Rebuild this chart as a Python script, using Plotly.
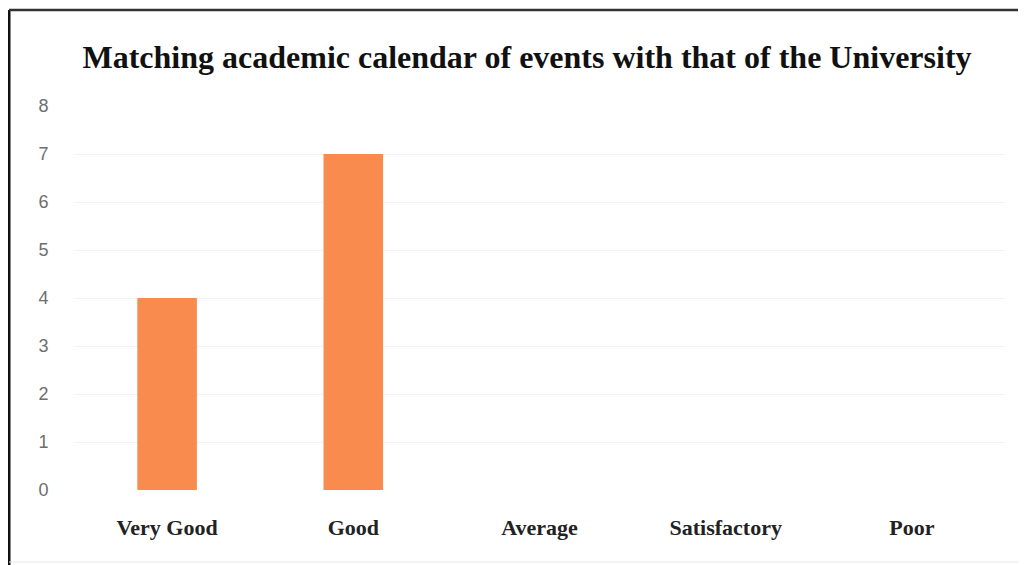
import plotly.graph_objects as go

categories = ["Very Good", "Good", "Average", "Satisfactory", "Poor"]
values = [4, 7, 0, 0, 0]
y_ticks = [0, 1, 2, 3, 4, 5, 6, 7, 8]

# page body has an 8px margin; compensate so screen positions match
OFF = 8
W, H = 1026, 565
L, T = 74 - OFF, 106 - OFF
R = W - (1005 - OFF)
B = H - (490 - OFF)
pw, ph = W - L - R, H - T - B

def px_x(sx):
    return (sx - OFF - L) / pw

def px_y(sy):
    return (H - B - (sy - OFF)) / ph

fig = go.Figure()
fig.add_trace(go.Bar(
    x=categories, y=values,
    marker=dict(color="#F98B4E", line=dict(width=0)),
    width=0.32,
))

fig.update_layout(
    width=W, height=H,
    margin=dict(l=L, r=R, t=T, b=B),
    paper_bgcolor="white", plot_bgcolor="white",
    showlegend=False,
    title=dict(
        text="<b>Matching academic calendar of events with that of the University</b>",
        x=px_x(527), xref="paper", xanchor="center",
        y=1 - (57 - OFF) / H, yanchor="middle", yref="container",
        font=dict(family="Liberation Serif, Times New Roman, serif", size=32, color="#111111"),
    ),
    xaxis=dict(
        showgrid=False, showline=False, zeroline=False,
        ticks="outside", ticklen=18, tickcolor="rgba(0,0,0,0)",
        tickfont=dict(family="Liberation Serif, Times New Roman, serif", size=22, color="#222222"),
        tickprefix="<b>", ticksuffix="</b>",
    ),
    yaxis=dict(
        range=[0, 8], tickvals=y_ticks,
        showgrid=True, gridcolor="#f3f3f3", gridwidth=1,
        showline=False, zeroline=False,
        ticks="outside", ticklen=21, tickcolor="rgba(0,0,0,0)",
        tickfont=dict(family="Liberation Sans, DejaVu Sans, sans-serif", size=18, color="#6e6e6e"),
    ),
)

border = [
    (9, 10, 9, 600, "#111111", 3),       # left
    (9, 10, 1040, 10, "#333333", 2.5),   # top
    (1024, 10, 1024, 600, "#dddddd", 1), # right
    (9, 562, 1040, 562, "#e6e6e6", 1),   # bottom
]
for x0, y0, x1, y1, c, w in border:
    fig.add_shape(type="line", xref="paper", yref="paper",
                  x0=px_x(x0), x1=px_x(x1), y0=px_y(y0), y1=px_y(y1),
                  line=dict(color=c, width=w), layer="above")

fig.write_html("out.html")
